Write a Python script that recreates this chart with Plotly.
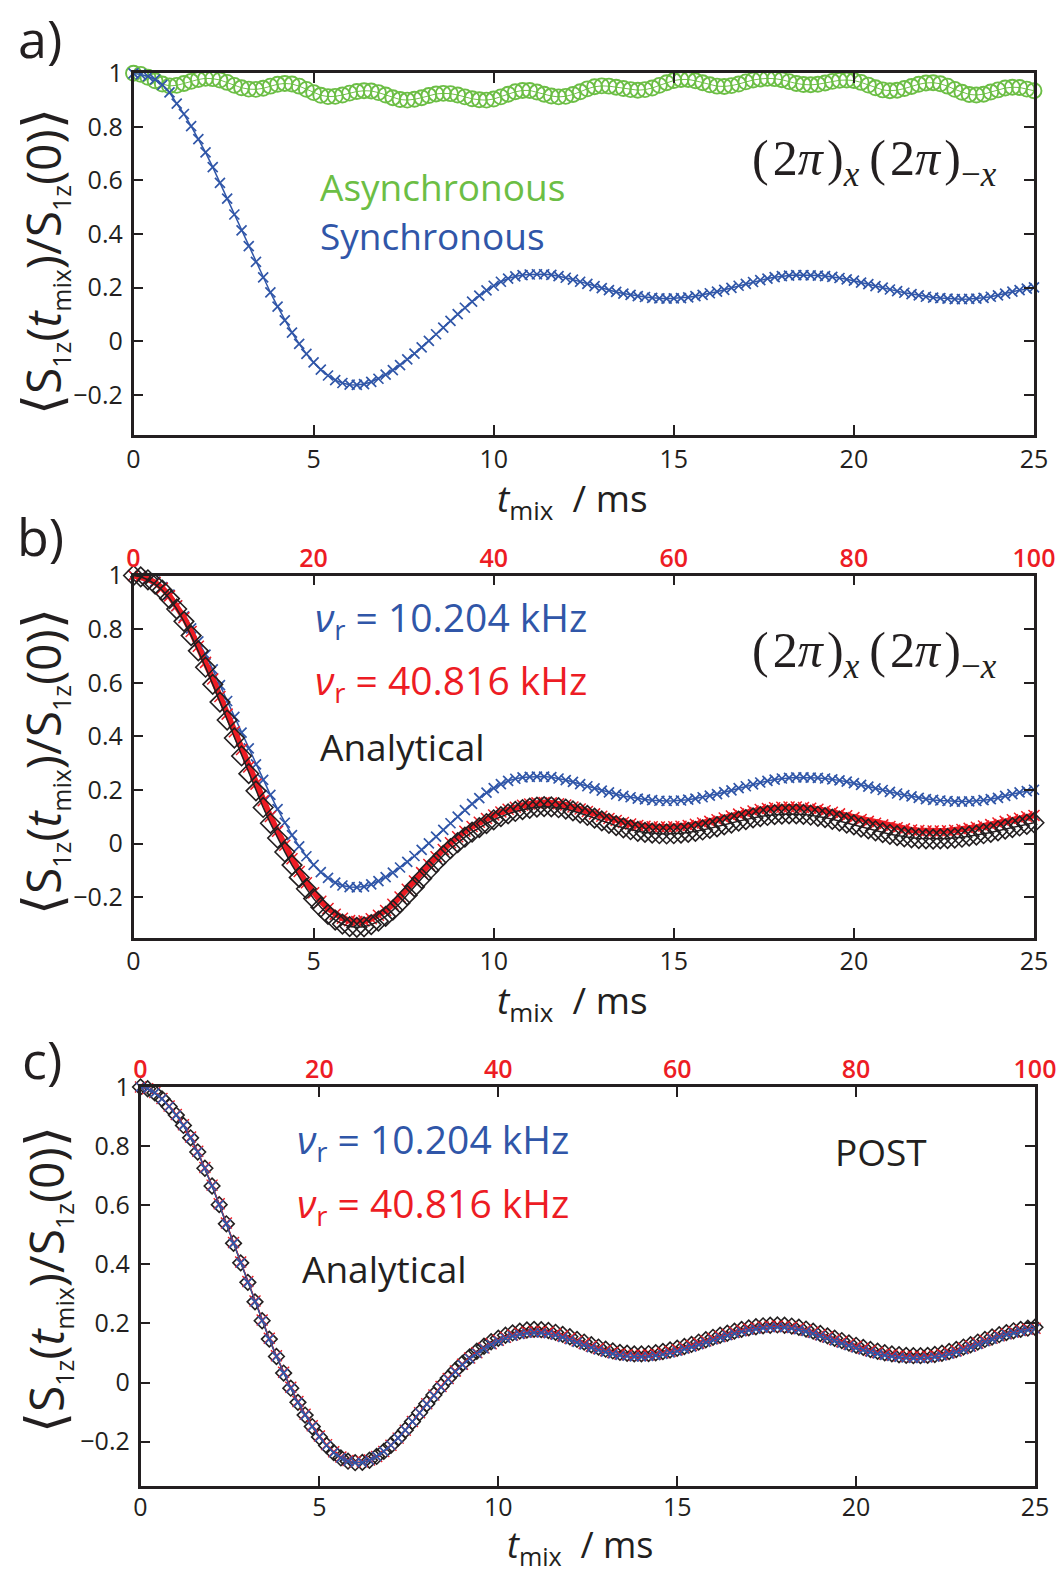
import plotly.graph_objects as go

# ---------------------------------------------------------------- data
# mixing time grid (ms), one sample every 0.2 ms from 0 to 25 ms
t_ms = [round(0.2 * i, 1) for i in range(126)]

x_ticks = [0, 5, 10, 15, 20, 25]
x_top_ticks = [0, 20, 40, 60, 80, 100]
y_ticks = [-0.2, 0, 0.2, 0.4, 0.6, 0.8, 1]
y_tick_text = ["\u22120.2", "0", "0.2", "0.4", "0.6", "0.8", "1"]

# (a) asynchronous (2pi)x(2pi)-x
async_a = [
    1.000, 0.996, 0.985, 0.972, 0.960, 0.953, 0.955, 0.962, 0.970, 0.977,
    0.981, 0.980, 0.975, 0.966, 0.955, 0.946, 0.941, 0.940, 0.944, 0.952,
    0.959, 0.962, 0.960, 0.952, 0.940, 0.928, 0.918, 0.913, 0.914, 0.919,
    0.926, 0.932, 0.935, 0.934, 0.928, 0.919, 0.909, 0.902, 0.900, 0.903,
    0.909, 0.917, 0.923, 0.925, 0.924, 0.919, 0.912, 0.905, 0.901, 0.900,
    0.904, 0.912, 0.922, 0.931, 0.936, 0.936, 0.930, 0.922, 0.915, 0.912,
    0.914, 0.921, 0.931, 0.942, 0.950, 0.953, 0.952, 0.948, 0.943, 0.939,
    0.937, 0.939, 0.945, 0.955, 0.965, 0.973, 0.977, 0.977, 0.972, 0.965,
    0.957, 0.952, 0.951, 0.954, 0.960, 0.968, 0.975, 0.979, 0.981, 0.980,
    0.976, 0.969, 0.962, 0.958, 0.957, 0.959, 0.964, 0.970, 0.974, 0.975,
    0.973, 0.966, 0.956, 0.946, 0.938, 0.935, 0.937, 0.943, 0.951, 0.959,
    0.964, 0.965, 0.961, 0.952, 0.940, 0.929, 0.921, 0.919, 0.922, 0.930,
    0.938, 0.945, 0.948, 0.947, 0.941, 0.935,
]

# (a)/(b) synchronous, nu_r = 10.204 kHz
sync_10k = [
    1.000, 0.996, 0.989, 0.977, 0.957, 0.929, 0.887, 0.848, 0.803, 0.754,
    0.705, 0.650, 0.591, 0.532, 0.473, 0.414, 0.355, 0.296, 0.238, 0.182,
    0.129, 0.078, 0.032, -0.010, -0.047, -0.079, -0.106, -0.128, -0.145, -0.156,
    -0.162, -0.163, -0.160, -0.152, -0.140, -0.125, -0.108, -0.089, -0.068, -0.046,
    -0.023, 0.001, 0.026, 0.051, 0.076, 0.101, 0.125, 0.148, 0.170, 0.190,
    0.207, 0.222, 0.234, 0.242, 0.247, 0.249, 0.250, 0.250, 0.248, 0.243,
    0.237, 0.230, 0.222, 0.214, 0.206, 0.198, 0.191, 0.184, 0.178, 0.173,
    0.168, 0.165, 0.162, 0.160, 0.159, 0.160, 0.161, 0.164, 0.168, 0.173,
    0.179, 0.185, 0.192, 0.199, 0.207, 0.214, 0.221, 0.228, 0.234, 0.239,
    0.243, 0.245, 0.247, 0.247, 0.246, 0.245, 0.243, 0.240, 0.236, 0.231,
    0.226, 0.219, 0.213, 0.206, 0.200, 0.193, 0.187, 0.181, 0.176, 0.171,
    0.166, 0.163, 0.161, 0.159, 0.157, 0.157, 0.158, 0.159, 0.162, 0.166,
    0.171, 0.178, 0.185, 0.191, 0.196, 0.201,
]

# (b) nu_r = 40.816 kHz
sync_40k_b = [
    1.000, 0.996, 0.987, 0.974, 0.953, 0.924, 0.887, 0.843, 0.791, 0.736,
    0.676, 0.614, 0.549, 0.483, 0.417, 0.351, 0.286, 0.222, 0.160, 0.101,
    0.046, -0.006, -0.056, -0.104, -0.146, -0.183, -0.215, -0.242, -0.263, -0.278,
    -0.287, -0.290, -0.288, -0.280, -0.267, -0.249, -0.226, -0.199, -0.170, -0.139,
    -0.108, -0.078, -0.049, -0.022, 0.003, 0.026, 0.046, 0.064, 0.080, 0.094,
    0.107, 0.118, 0.128, 0.136, 0.143, 0.148, 0.152, 0.153, 0.152, 0.149,
    0.144, 0.137, 0.129, 0.120, 0.111, 0.102, 0.094, 0.086, 0.079, 0.073,
    0.068, 0.065, 0.063, 0.062, 0.062, 0.063, 0.065, 0.068, 0.072, 0.077,
    0.083, 0.089, 0.096, 0.103, 0.110, 0.116, 0.122, 0.127, 0.131, 0.134,
    0.136, 0.137, 0.137, 0.135, 0.132, 0.128, 0.123, 0.117, 0.111, 0.104,
    0.097, 0.090, 0.083, 0.076, 0.070, 0.064, 0.059, 0.055, 0.051, 0.049,
    0.047, 0.047, 0.047, 0.048, 0.050, 0.053, 0.057, 0.061, 0.066, 0.071,
    0.077, 0.083, 0.089, 0.095, 0.100, 0.105,
]

# (b) analytical
analytic_b = [
    1.000, 0.995, 0.984, 0.968, 0.945, 0.914, 0.875, 0.829, 0.776, 0.719,
    0.658, 0.594, 0.528, 0.461, 0.394, 0.327, 0.261, 0.197, 0.135, 0.076,
    0.021, -0.031, -0.080, -0.126, -0.168, -0.205, -0.237, -0.264, -0.285, -0.300,
    -0.309, -0.312, -0.310, -0.302, -0.289, -0.271, -0.248, -0.221, -0.192, -0.161,
    -0.130, -0.100, -0.071, -0.044, -0.019, 0.004, 0.024, 0.043, 0.060, 0.075,
    0.089, 0.101, 0.111, 0.120, 0.127, 0.132, 0.136, 0.138, 0.137, 0.134,
    0.129, 0.122, 0.114, 0.105, 0.095, 0.085, 0.076, 0.067, 0.059, 0.052,
    0.046, 0.042, 0.039, 0.037, 0.036, 0.037, 0.039, 0.042, 0.046, 0.051,
    0.057, 0.063, 0.070, 0.077, 0.084, 0.090, 0.096, 0.101, 0.105, 0.108,
    0.110, 0.111, 0.111, 0.109, 0.106, 0.102, 0.097, 0.091, 0.084, 0.077,
    0.070, 0.062, 0.055, 0.048, 0.041, 0.035, 0.030, 0.025, 0.022, 0.019,
    0.018, 0.017, 0.018, 0.019, 0.021, 0.024, 0.028, 0.032, 0.037, 0.042,
    0.048, 0.054, 0.060, 0.066, 0.072, 0.078,
]

# (c) POST, nu_r = 10.204 kHz
post_10k = [
    1.000, 0.994, 0.980, 0.960, 0.934, 0.905, 0.870, 0.828, 0.780, 0.725,
    0.665, 0.602, 0.537, 0.471, 0.405, 0.339, 0.273, 0.209, 0.147, 0.088,
    0.032, -0.019, -0.067, -0.110, -0.149, -0.184, -0.213, -0.237, -0.255, -0.266,
    -0.271, -0.270, -0.263, -0.250, -0.233, -0.212, -0.188, -0.161, -0.132, -0.102,
    -0.073, -0.044, -0.016, 0.011, 0.036, 0.060, 0.081, 0.099, 0.115, 0.129,
    0.140, 0.150, 0.157, 0.163, 0.167, 0.168, 0.168, 0.165, 0.160, 0.153,
    0.145, 0.136, 0.127, 0.118, 0.110, 0.103, 0.097, 0.092, 0.089, 0.087,
    0.087, 0.088, 0.091, 0.095, 0.100, 0.106, 0.113, 0.120, 0.128, 0.136,
    0.144, 0.152, 0.159, 0.166, 0.172, 0.177, 0.181, 0.184, 0.186, 0.187,
    0.186, 0.183, 0.179, 0.173, 0.166, 0.158, 0.150, 0.141, 0.133, 0.125,
    0.117, 0.110, 0.103, 0.097, 0.092, 0.088, 0.085, 0.083, 0.082, 0.082,
    0.083, 0.086, 0.090, 0.096, 0.103, 0.111, 0.120, 0.129, 0.138, 0.147,
    0.155, 0.162, 0.168, 0.174, 0.178, 0.182,
]

# (c) POST, nu_r = 40.816 kHz
post_40k = [
    1.000, 0.994, 0.981, 0.961, 0.936, 0.907, 0.872, 0.831, 0.783, 0.728,
    0.668, 0.605, 0.540, 0.474, 0.408, 0.342, 0.276, 0.212, 0.150, 0.091,
    0.035, -0.016, -0.064, -0.107, -0.146, -0.181, -0.210, -0.234, -0.252, -0.264,
    -0.269, -0.268, -0.262, -0.250, -0.233, -0.212, -0.188, -0.161, -0.132, -0.102,
    -0.072, -0.042, -0.013, 0.014, 0.039, 0.062, 0.083, 0.101, 0.117, 0.131,
    0.143, 0.153, 0.161, 0.167, 0.171, 0.173, 0.173, 0.170, 0.165, 0.158,
    0.150, 0.141, 0.132, 0.123, 0.115, 0.108, 0.102, 0.097, 0.094, 0.092,
    0.092, 0.093, 0.096, 0.100, 0.105, 0.111, 0.118, 0.125, 0.133, 0.141,
    0.149, 0.156, 0.163, 0.170, 0.176, 0.181, 0.185, 0.188, 0.190, 0.191,
    0.190, 0.187, 0.183, 0.177, 0.170, 0.162, 0.154, 0.146, 0.138, 0.130,
    0.122, 0.115, 0.108, 0.102, 0.097, 0.093, 0.090, 0.088, 0.087, 0.087,
    0.088, 0.091, 0.095, 0.101, 0.108, 0.116, 0.124, 0.133, 0.142, 0.150,
    0.158, 0.165, 0.171, 0.176, 0.180, 0.184,
]

# (c) analytical
analytic_c = [
    1.000, 0.994, 0.980, 0.960, 0.934, 0.905, 0.870, 0.828, 0.780, 0.725,
    0.665, 0.602, 0.537, 0.471, 0.405, 0.339, 0.273, 0.209, 0.147, 0.088,
    0.032, -0.019, -0.067, -0.110, -0.149, -0.184, -0.213, -0.237, -0.255, -0.266,
    -0.271, -0.270, -0.263, -0.250, -0.233, -0.212, -0.188, -0.161, -0.132, -0.102,
    -0.072, -0.042, -0.013, 0.015, 0.041, 0.065, 0.087, 0.106, 0.123, 0.138,
    0.150, 0.160, 0.168, 0.174, 0.178, 0.180, 0.179, 0.176, 0.170, 0.163,
    0.155, 0.146, 0.137, 0.128, 0.120, 0.113, 0.107, 0.102, 0.099, 0.097,
    0.097, 0.098, 0.101, 0.105, 0.110, 0.116, 0.122, 0.129, 0.137, 0.145,
    0.153, 0.160, 0.167, 0.174, 0.180, 0.185, 0.189, 0.192, 0.194, 0.195,
    0.194, 0.191, 0.187, 0.181, 0.174, 0.166, 0.158, 0.150, 0.142, 0.134,
    0.126, 0.119, 0.112, 0.106, 0.101, 0.097, 0.094, 0.092, 0.091, 0.091,
    0.092, 0.095, 0.099, 0.105, 0.112, 0.120, 0.128, 0.137, 0.146, 0.154,
    0.162, 0.169, 0.175, 0.180, 0.184, 0.187,
]

# ---------------------------------------------------------------- style
W, H = 1059, 1573
FONT = "Open Sans"
INK = "#231f20"
GREEN = "#6cbe45"
BLUE = "#3056a8"
RED = "#ed1c24"


def fx(p):
    return p / W


def fy(p):
    return 1 - p / H


fig = go.Figure()


def add(y, ax, color, symbol, size, mwidth, lwidth, name):
    fig.add_trace(go.Scatter(
        x=t_ms, y=y, name=name, mode="lines+markers",
        xaxis=ax[0], yaxis=ax[1], cliponaxis=False,
        line=dict(color=color, width=lwidth),
        marker=dict(symbol=symbol, size=size, color=color,
                    line=dict(color=color, width=mwidth)),
    ))


# panel a
add(async_a, ("x", "y"), GREEN, "circle-open", 15, 1.9, 1, "Asynchronous")
add(sync_10k, ("x", "y"), BLUE, "x-thin", 10, 1.7, 1.5, "Synchronous")
# panel b
add(sync_10k, ("x2", "y2"), BLUE, "x-thin", 10, 1.7, 1.5, "10.204 kHz")
add(sync_40k_b, ("x2", "y2"), RED, "x-thin", 11, 1.5, 6, "40.816 kHz")
add(analytic_b, ("x2", "y2"), INK, "diamond-open", 15, 1.6, 1.5, "Analytical")
# panel c
add(analytic_c, ("x3", "y3"), INK, "diamond-open", 12, 1.6, 1.5, "Analytical")
add(post_40k, ("x3", "y3"), RED, "x-thin", 11, 1.4, 1.2, "40.816 kHz")
add(post_10k, ("x3", "y3"), BLUE, "x-thin", 9, 1.6, 1.2, "10.204 kHz")
# top (red) axes carry no data of their own
fig.add_trace(go.Scatter(x=[], y=[], xaxis="x4", yaxis="y2", showlegend=False))
fig.add_trace(go.Scatter(x=[], y=[], xaxis="x5", yaxis="y3", showlegend=False))

frame = dict(showline=True, linewidth=2.5, linecolor=INK, mirror="ticks",
             ticks="inside", ticklen=10, tickwidth=1.5, tickcolor=INK,
             showgrid=False, zeroline=False, automargin=False,
             tickfont=dict(family=FONT, size=25, color=INK))


def xax(left, right, anchor, standoff=0):
    return dict(frame, domain=[fx(left), fx(right)], range=[0, 25],
                tickvals=x_ticks, anchor=anchor, ticklabelstandoff=standoff)


def yax(top, bottom, anchor):
    return dict(frame, domain=[fy(bottom), fy(top)], range=[-0.35, 1],
                tickvals=y_ticks, ticktext=y_tick_text, anchor=anchor,
                ticklabelstandoff=3)


def top_ax(over, anchor):
    return dict(overlaying=over, side="top", anchor=anchor, range=[0, 100],
                tickvals=x_top_ticks, ticks="", showline=False,
                showgrid=False, zeroline=False, ticklabelstandoff=3,
                automargin=False,
                tickfont=dict(family=FONT, size=25, color=RED, weight=600))


fig.update_layout(
    template="none",
    width=W, height=H, margin=dict(l=0, r=0, t=0, b=0, autoexpand=False),
    paper_bgcolor="white", plot_bgcolor="white", showlegend=False,
    xaxis=xax(133.5, 1034, "y"), yaxis=yax(73.3, 435, "x"),
    xaxis2=xax(133.5, 1034, "y2"), yaxis2=yax(575.5, 937.5, "x2"),
    xaxis3=xax(140.5, 1035, "y3", -3), yaxis3=yax(1087, 1486, "x3"),
    xaxis4=top_ax("x2", "y2"), xaxis5=top_ax("x3", "y3"),
)

ann = []


def text(x, y, s, size, color=INK, family=FONT, xanchor="left", angle=0):
    ann.append(dict(x=fx(x), y=fy(y), xref="paper", yref="paper", text=s,
                    showarrow=False, xanchor=xanchor, yanchor="middle",
                    textangle=angle,
                    font=dict(family=family, size=size, color=color)))


SUB = '<sub><span style="font-size:25px">{}</span></sub>'
BR = '<span style="font-size:54px">{}</span>'
ylabel = (BR.format("\u27e8") + "S" + SUB.format("1z") + "(<i>t</i>"
          + SUB.format("mix") + ")/S" + SUB.format("1z") + "(0)"
          + BR.format("\u27e9"))
xlabel = "<i>t</i><sub>mix</sub>  / ms"
pulse = ("(\u200a2<i>\u03c0</i>\u200a)<sub><i>x</i></sub>\u2009(\u200a2<i>\u03c0</i>\u200a)"
         "<sub>\u2212<i>x</i></sub>")
nu10 = "<i>\u03bd</i><sub>r</sub> = 10.204 kHz"
nu40 = "<i>\u03bd</i><sub>r</sub> = 40.816 kHz"

# panel letters
text(40, 37, "a)", 52, xanchor="center")
text(40, 535, "b)", 52, xanchor="center")
text(42, 1058, "c)", 52, xanchor="center")

# axis titles
for yc in (262, 762):
    text(40, yc, ylabel, 48, xanchor="center", angle=-90)
text(43, 1280, ylabel, 48, xanchor="center", angle=-90)
text(572, 500, xlabel, 37, xanchor="center")
text(572, 1002, xlabel, 37, xanchor="center")
text(580, 1546, xlabel, 36, xanchor="center")

# panel a labels
text(318, 187, "Asynchronous", 37, GREEN)
text(318, 235, "Synchronous", 37, BLUE)
text(750, 162, pulse, 50, family="Liberation Serif")

# panel b labels
text(313, 619, nu10, 39, BLUE)
text(313, 682, nu40, 39, RED)
text(318, 746, "Analytical", 37)
text(750, 654, pulse, 50, family="Liberation Serif")

# panel c labels
text(295, 1141, nu10, 39, BLUE)
text(295, 1205, nu40, 39, RED)
text(300, 1268, "Analytical", 37)
text(833, 1151, "POST", 37)

fig.update_layout(annotations=ann)
fig.write_html("out.html")
